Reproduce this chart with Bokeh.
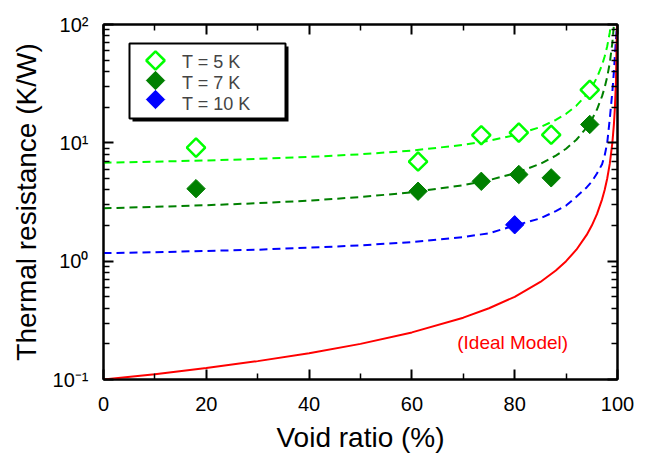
import numpy as np
from bokeh.plotting import figure
from bokeh.models import (Range1d, FixedTicker, LinearAxis, LogAxis, Legend,
                          LegendItem, BoxAnnotation, Label, CustomJSTickFormatter,
                          LinearScale)
from bokeh.embed import file_html
from bokeh.resources import INLINE

# ---------------- data ----------------
x_ticks = [0, 20, 40, 60, 80, 100]
x_minor = [10, 30, 50, 70, 90]
y_ticks = [0.1, 1, 10, 100]
y_tick_labels = ["10\u207b\u00b9", "10\u2070", "10\u00b9", "10\u00b2"]

void_5K = [18, 61.2, 73.5, 80.8, 87.1, 94.6]
R_5K = [9.1, 6.95, 11.6, 12.2, 11.7, 28.0]
void_7K = [18, 61.2, 73.5, 80.8, 87.1, 94.6]
R_7K = [4.1, 3.9, 4.73, 5.4, 5.06, 14.3]
void_10K = [80.0]
R_10K = [2.03]

void_curve = [0, 10, 20, 30, 40, 50, 60, 70, 75, 80, 85, 88, 90, 92, 94, 95,
              96, 97, 97.5, 98, 98.5, 99, 99.3, 99.5, 99.7, 99.9]
fit_5K = [6.8, 6.93, 7.1, 7.31, 7.6, 8.0, 8.6, 9.6, 10.4, 11.6, 13.6, 15.6, 17.6,
          20.6, 25.6, 29.6, 35.6, 45.6, 53.6, 65.6, 85.6, 125.6, 177, 245, 405, 1205]
fit_7K = [2.8, 2.88, 2.97, 3.09, 3.25, 3.48, 3.82, 4.39, 4.84, 5.52, 6.65, 7.79, 8.92,
          10.62, 13.45, 15.7, 19.1, 24.8, 29.3, 36.1, 47.4, 70.1, 99.2, 138, 229, 682]
fit_10K = [1.17, 1.19, 1.22, 1.25, 1.3, 1.36, 1.45, 1.6, 1.72, 2.0, 2.3, 2.65, 2.95,
           3.5, 4.2, 4.7, 5.5, 6.6, 7.8, 10.0, 16.0, 27.0, 40.0, 55.0, 75.0, 100.0]
ideal = [0.1, 0.111, 0.125, 0.143, 0.167, 0.2, 0.25, 0.333, 0.4, 0.5, 0.667, 0.833, 1.0,
         1.25, 1.667, 2.0, 2.5, 3.33, 4.0, 5.0, 6.67, 10.0, 14.3, 20.0, 33.3, 100.0]

legend_labels = ["T = 5 K", "T = 7 K", "T = 10 K"]

LIME = "#00ff00"
DGREEN = "#008000"
BLUE = "#0000ff"
RED = "#ff0000"
FONT = "Liberation Sans"

# layout (pixels)
FRAME_W, FRAME_H = 514, 355
LEG_X, LEG_BOTTOM = 26, 264            # legend text block, frame-relative
LEG_BOX = dict(left=129, right=285, top=43, bottom=118)   # canvas px
LEG_MARK_X = 52                         # legend sample markers, px from frame left
LEG_MARK_Y = [36, 56, 75]               # px from frame top

# ---------------- figure ----------------
p = figure(frame_width=FRAME_W, frame_height=FRAME_H,
           x_range=Range1d(0, 100), y_range=Range1d(0.1, 100),
           y_axis_type="log", output_backend="svg", toolbar_location=None,
           min_border_left=103, min_border_right=23, min_border_top=24,
           min_border_bottom=75)
p.xgrid.visible = False
p.ygrid.visible = False
p.outline_line_color = "black"
p.outline_line_width = 2
p.background_fill_color = "white"
p.border_fill_color = "white"

xt = FixedTicker(ticks=x_ticks, minor_ticks=x_minor)
y_minor = [m * d for d in [0.1, 1, 10] for m in range(2, 10)]
yt = FixedTicker(ticks=y_ticks, minor_ticks=y_minor)
blank = CustomJSTickFormatter(code="return ''")


def style_axis(ax, labels=True):
    ax.axis_line_width = 2
    ax.axis_line_color = "black"
    ax.major_tick_in = 10
    ax.major_tick_out = 0
    ax.minor_tick_in = 6
    ax.minor_tick_out = 0
    ax.major_tick_line_width = 2
    ax.minor_tick_line_width = 1.5
    ax.major_tick_line_color = "black"
    ax.minor_tick_line_color = "black"
    ax.major_label_text_font = FONT
    ax.axis_label_text_font = FONT
    ax.axis_label_text_font_style = "normal"
    ax.axis_label_text_color = "black"
    ax.major_label_text_color = "black"
    if not labels:
        ax.formatter = blank
        ax.major_label_standoff = 0
        ax.major_label_text_font_size = "1px"


xa = p.xaxis[0]
xa.ticker = xt
style_axis(xa)
xa.major_label_text_font_size = "20px"
xa.major_label_standoff = 17
xa.axis_label = "Void ratio (%)"
xa.axis_label_text_font_size = "28px"
xa.axis_label_standoff = 8

ya = p.yaxis[0]
ya.ticker = yt
style_axis(ya)
ya.major_label_overrides = {t: s for t, s in zip(y_ticks, y_tick_labels)}
ya.major_label_text_font_size = "20px"
ya.major_label_standoff = 15
ya.axis_label = "Thermal resistance (K/W)"
ya.axis_label_text_font_size = "28px"
ya.axis_label_standoff = 8

top_ax = LinearAxis(ticker=xt)
style_axis(top_ax, labels=False)
p.add_layout(top_ax, "above")
right_ax = LogAxis(ticker=yt)
style_axis(right_ax, labels=False)
p.add_layout(right_ax, "right")

# ---------------- legend box (shadow + white box), drawn under everything ----
shadow = BoxAnnotation(left=LEG_BOX["left"] + 3, right=LEG_BOX["right"] + 3,
                       top=LEG_BOX["top"] + 3, bottom=LEG_BOX["bottom"] + 3,
                       left_units="canvas", right_units="canvas",
                       top_units="canvas", bottom_units="canvas",
                       fill_color="black", fill_alpha=1, line_color=None,
                       level="underlay")
p.add_layout(shadow)
legbox = BoxAnnotation(**LEG_BOX,
                       left_units="canvas", right_units="canvas",
                       top_units="canvas", bottom_units="canvas",
                       fill_color="white", fill_alpha=1, line_color="black",
                       line_alpha=1, line_width=2, level="underlay")
p.add_layout(legbox)

# ---------------- curves ----------------
p.line(void_curve, fit_5K, line_color=LIME, line_width=2, line_dash="8 5")
p.line(void_curve, fit_7K, line_color=DGREEN, line_width=2, line_dash="8 5")
p.line(void_curve, fit_10K, line_color=BLUE, line_width=2, line_dash="8 5")
p.line(void_curve, ideal, line_color=RED, line_width=2)

# ---------------- markers ----------------
s5 = dict(marker="square", angle=np.pi / 4, size=13, fill_color="white",
          line_color=LIME, line_width=2.5)
s7 = dict(marker="square", angle=np.pi / 4, size=13, fill_color=DGREEN,
          line_color=DGREEN, line_width=1)
s10 = dict(marker="square", angle=np.pi / 4, size=13, fill_color=BLUE,
           line_color=BLUE, line_width=1)
p.scatter(void_5K, R_5K, **s5)
p.scatter(void_7K, R_7K, **s7)
p.scatter(void_10K, R_10K, **s10)

p.add_layout(Label(x=79.6, y=0.205, text="(Ideal Model)", text_align="center",
                   text_baseline="middle", text_color=RED, text_font=FONT,
                   text_font_size="19px"))

# ---------------- legend ----------------
# Bokeh draws legend markers unrotated, so the legend provides the labels and
# the diamond samples are drawn on a pixel-based (linear) range.
p.extra_x_ranges = {"lx": Range1d(0, FRAME_W)}
p.extra_y_ranges = {"ly": Range1d(FRAME_H, 0)}
p.extra_x_scales = {"lx": LinearScale()}
p.extra_y_scales = {"ly": LinearScale()}

dummies = [p.scatter(x=[], y=[], marker="square", fill_alpha=0, line_alpha=0)
           for _ in range(3)]

legend = Legend(items=[LegendItem(label=lab, renderers=[d])
                       for lab, d in zip(legend_labels, dummies)],
                location=(LEG_X, LEG_BOTTOM))
legend.padding = 6
legend.margin = 0
legend.spacing = 0
legend.glyph_width = 38
legend.glyph_height = 19
legend.label_height = 19
legend.label_width = 90
legend.label_standoff = 15
legend.label_text_font = FONT
legend.label_text_font_size = "18px"
legend.label_text_baseline = "middle"
legend.border_line_color = None
legend.background_fill_alpha = 0
p.add_layout(legend)

for yy, st in zip(LEG_MARK_Y, [s5, s7, s10]):
    p.scatter([LEG_MARK_X], [yy], x_range_name="lx", y_range_name="ly", **st)

open("out.html", "w").write(file_html(p, INLINE))
